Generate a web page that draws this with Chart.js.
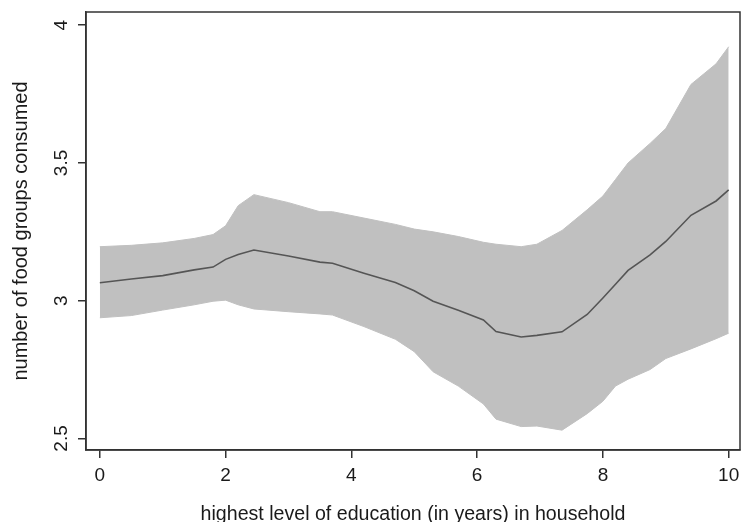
<!DOCTYPE html>
<html>
<head>
<meta charset="utf-8">
<script src="https://cdn.jsdelivr.net/npm/chart.js@4/dist/chart.umd.min.js"></script>
<style>
  html, body { margin: 0; padding: 0; background: #ffffff; }
  #wrap { width: 741px; height: 522px; }
</style>
</head>
<body>
<div id="wrap"><canvas id="c" width="741" height="522"></canvas></div>
<script>
// ---- data ----
const educationYears = [0, 0.5, 1, 1.5, 1.8, 2.0, 2.2, 2.45, 3.0, 3.5, 3.7, 4.2, 4.7, 5.0, 5.3, 5.7, 6.1, 6.3, 6.7, 6.95, 7.35, 7.75, 8.0, 8.2, 8.4, 8.75, 9.0, 9.4, 9.8, 10];
const meanGroups   = [3.065, 3.079, 3.091, 3.112, 3.122, 3.150, 3.168, 3.184, 3.162, 3.140, 3.136, 3.100, 3.066, 3.036, 2.998, 2.965, 2.930, 2.888, 2.868, 2.874, 2.887, 2.950, 3.010, 3.060, 3.110, 3.166, 3.215, 3.310, 3.362, 3.402];
const upperCI      = [3.196, 3.201, 3.210, 3.226, 3.240, 3.272, 3.345, 3.385, 3.356, 3.323, 3.323, 3.300, 3.277, 3.260, 3.250, 3.233, 3.212, 3.205, 3.196, 3.205, 3.255, 3.330, 3.380, 3.440, 3.500, 3.571, 3.625, 3.785, 3.860, 3.922];
const lowerCI      = [2.938, 2.946, 2.966, 2.985, 2.998, 3.002, 2.985, 2.970, 2.960, 2.952, 2.948, 2.906, 2.860, 2.815, 2.742, 2.690, 2.625, 2.570, 2.543, 2.545, 2.530, 2.590, 2.635, 2.690, 2.715, 2.750, 2.790, 2.825, 2.862, 2.882];
const xTicks = [0, 2, 4, 6, 8, 10];
const yTicks = [2.5, 3, 3.5, 4];
const xTitle = "highest level of education (in years) in household";
const yTitle = "number of food groups consumed";

const toPts = (ys) => educationYears.map((x, i) => ({ x: x, y: ys[i] }));

const frameColor = '#333333';
const textColor = '#1a1a1a';
const font = 'Liberation Sans, Arial, Helvetica, sans-serif';

const framePlugin = {
  id: 'frame',
  afterDraw(chart) {
    const a = chart.chartArea, ctx = chart.ctx;
    ctx.save();
    ctx.strokeStyle = frameColor;
    ctx.lineWidth = 1.5;
    ctx.strokeRect(a.left, a.top, a.right - a.left, a.bottom - a.top);
    ctx.restore();
  }
};

new Chart(document.getElementById('c'), {
  type: 'line',
  data: {
    datasets: [
      { data: toPts(meanGroups), order: 0, borderColor: '#555555', borderWidth: 1.6, pointRadius: 0, fill: false, tension: 0 },
      { data: toPts(lowerCI), order: 2, borderColor: '#c0c0c0', borderWidth: 1, pointRadius: 0, fill: false, tension: 0 },
      { data: toPts(upperCI), order: 1, borderColor: '#c0c0c0', borderWidth: 1, pointRadius: 0, fill: 1, backgroundColor: '#c0c0c0', tension: 0 }
    ]
  },
  options: {
    responsive: false,
    animation: false,
    events: [],
    layout: { padding: { left: 0, top: 12, right: 1, bottom: 0 } },
    plugins: { legend: { display: false }, tooltip: { enabled: false } },
    scales: {
      x: {
        type: 'linear',
        min: -0.22,
        max: 10.18,
        afterBuildTicks: (s) => { s.ticks = xTicks.map(v => ({ value: v })); },
        afterFit: (s) => { s.height = 72; s.paddingLeft = 0; s.paddingRight = 0; },
        border: { display: true, color: frameColor, width: 1.5 },
        grid: { display: true, drawOnChartArea: false, drawTicks: true, tickLength: 8, color: frameColor, lineWidth: 1.5 },
        ticks: { color: textColor, font: { family: font, size: 19 }, padding: 6, maxRotation: 0, minRotation: 0, callback: (v) => String(v) },
        title: { display: true, text: xTitle, color: textColor, font: { family: font, size: 19.6, lineHeight: 0.8 }, padding: { top: 0, bottom: 0 } }
      },
      y: {
        type: 'linear',
        min: 2.458,
        max: 4.048,
        afterBuildTicks: (s) => { s.ticks = yTicks.map(v => ({ value: v })); },
        afterFit: (s) => { s.width = 86; s.paddingTop = 0; s.paddingBottom = 0; },
        border: { display: true, color: frameColor, width: 1.5 },
        grid: { display: true, drawOnChartArea: false, drawTicks: true, tickLength: 8, color: frameColor, lineWidth: 1.5 },
        ticks: { color: textColor, font: { family: font, size: 19 }, padding: 3, minRotation: 90, maxRotation: 90, crossAlign: 'center', callback: (v) => String(v) },
        title: { display: true, text: yTitle, color: textColor, font: { family: font, size: 20, lineHeight: 1.2 }, padding: { top: 9, bottom: 0 } }
      }
    }
  },
  plugins: [framePlugin]
});
</script>
</body>
</html>
